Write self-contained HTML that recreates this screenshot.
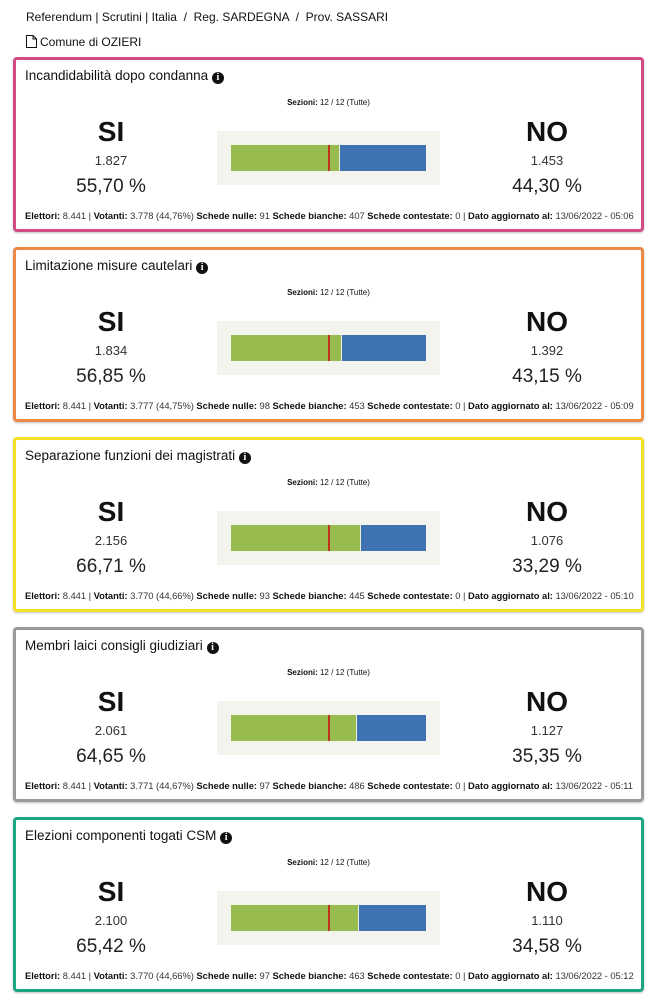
<!DOCTYPE html>
<html><head><meta charset="utf-8"><style>
*{margin:0;padding:0;box-sizing:border-box}
body{width:658px;height:1000px;background:#fff;font-family:"Liberation Sans",sans-serif;color:#111;position:relative;overflow:hidden}
.a{position:absolute;white-space:nowrap}
.box{position:absolute;left:13px;width:631px;height:175px;border:3px solid;border-radius:4px;box-shadow:0 1px 2px rgba(0,0,0,.25)}
.t{left:9px;top:8px;font-size:13.5px}
.i{display:inline-block;width:12px;height:12px;border-radius:50%;background:#111;color:#fff;font-size:10px;font-weight:bold;text-align:center;line-height:12px;font-family:"Liberation Serif",serif;vertical-align:0}
.sz{left:0;width:625px;text-align:center;top:38px;font-size:8px}
.c{width:120px;text-align:center}
.lbl{top:56px;font-size:28px;font-weight:bold}
.num{top:93px;font-size:13px;color:#333}
.pct{top:116px;font-size:19px;color:#222}
.chart{left:201px;top:71px;width:223px;height:54px;background:#f4f4ee}
.bar{position:absolute;left:14px;top:14px;width:195px;height:26px;background:#3f72b3}
.g{position:absolute;left:0;top:0;height:26px;background:#97bb4f;border-right:1px solid #e8f0e0}
.r{position:absolute;left:97px;top:0;width:2px;height:26px;background:#c0321a}
.f{left:9px;top:150px;font-size:9.4px;color:#333;letter-spacing:-0.03px}
.f b{color:#111}
</style></head><body>
<div class="a" style="left:26px;top:10px;font-size:12px">Referendum | Scrutini | Italia &nbsp;/&nbsp; Reg. SARDEGNA &nbsp;/&nbsp; Prov. SASSARI</div>
<div class="a" style="left:26px;top:35px;font-size:12px"><svg width="11" height="13" viewBox="0 0 11 13" style="vertical-align:-2px;margin-right:3px"><path d="M0.5 0.5h6.5l3.5 3.5v8.5h-10z M7 0.5v3.5h3.5" fill="none" stroke="#111"/></svg>Comune di OZIERI</div>

<div class="box" style="top:57px;border-color:#d24c82">
<div class="a t">Incandidabilità dopo condanna <span class="i">i</span></div>
<div class="a sz"><b>Sezioni:</b> 12 / 12 (Tutte)</div>
<div class="a c lbl" style="left:35px">SI</div><div class="a c num" style="left:35px">1.827</div><div class="a c pct" style="left:35px">55,70 %</div>
<div class="a chart"><div class="bar"><div class="g" style="width:109px"></div><div class="r"></div></div></div>
<div class="a c lbl" style="left:471px">NO</div><div class="a c num" style="left:471px">1.453</div><div class="a c pct" style="left:471px">44,30 %</div>
<div class="a f"><b>Elettori:</b> 8.441 | <b>Votanti:</b> 3.778 (44,76%) <b>Schede nulle:</b> 91 <b>Schede bianche:</b> 407 <b>Schede contestate:</b> 0 | <b>Dato aggiornato al:</b> 13/06/2022 - 05:06</div>
</div>

<div class="box" style="top:247px;border-color:#ee8846">
<div class="a t">Limitazione misure cautelari <span class="i">i</span></div>
<div class="a sz"><b>Sezioni:</b> 12 / 12 (Tutte)</div>
<div class="a c lbl" style="left:35px">SI</div><div class="a c num" style="left:35px">1.834</div><div class="a c pct" style="left:35px">56,85 %</div>
<div class="a chart"><div class="bar"><div class="g" style="width:111px"></div><div class="r"></div></div></div>
<div class="a c lbl" style="left:471px">NO</div><div class="a c num" style="left:471px">1.392</div><div class="a c pct" style="left:471px">43,15 %</div>
<div class="a f"><b>Elettori:</b> 8.441 | <b>Votanti:</b> 3.777 (44,75%) <b>Schede nulle:</b> 98 <b>Schede bianche:</b> 453 <b>Schede contestate:</b> 0 | <b>Dato aggiornato al:</b> 13/06/2022 - 05:09</div>
</div>

<div class="box" style="top:437px;border-color:#f4e121">
<div class="a t">Separazione funzioni dei magistrati <span class="i">i</span></div>
<div class="a sz"><b>Sezioni:</b> 12 / 12 (Tutte)</div>
<div class="a c lbl" style="left:35px">SI</div><div class="a c num" style="left:35px">2.156</div><div class="a c pct" style="left:35px">66,71 %</div>
<div class="a chart"><div class="bar"><div class="g" style="width:130px"></div><div class="r"></div></div></div>
<div class="a c lbl" style="left:471px">NO</div><div class="a c num" style="left:471px">1.076</div><div class="a c pct" style="left:471px">33,29 %</div>
<div class="a f"><b>Elettori:</b> 8.441 | <b>Votanti:</b> 3.770 (44,66%) <b>Schede nulle:</b> 93 <b>Schede bianche:</b> 445 <b>Schede contestate:</b> 0 | <b>Dato aggiornato al:</b> 13/06/2022 - 05:10</div>
</div>

<div class="box" style="top:627px;border-color:#9a9a9a">
<div class="a t">Membri laici consigli giudiziari <span class="i">i</span></div>
<div class="a sz"><b>Sezioni:</b> 12 / 12 (Tutte)</div>
<div class="a c lbl" style="left:35px">SI</div><div class="a c num" style="left:35px">2.061</div><div class="a c pct" style="left:35px">64,65 %</div>
<div class="a chart"><div class="bar"><div class="g" style="width:126px"></div><div class="r"></div></div></div>
<div class="a c lbl" style="left:471px">NO</div><div class="a c num" style="left:471px">1.127</div><div class="a c pct" style="left:471px">35,35 %</div>
<div class="a f"><b>Elettori:</b> 8.441 | <b>Votanti:</b> 3.771 (44,67%) <b>Schede nulle:</b> 97 <b>Schede bianche:</b> 486 <b>Schede contestate:</b> 0 | <b>Dato aggiornato al:</b> 13/06/2022 - 05:11</div>
</div>

<div class="box" style="top:817px;border-color:#1ba486">
<div class="a t">Elezioni componenti togati CSM <span class="i">i</span></div>
<div class="a sz"><b>Sezioni:</b> 12 / 12 (Tutte)</div>
<div class="a c lbl" style="left:35px">SI</div><div class="a c num" style="left:35px">2.100</div><div class="a c pct" style="left:35px">65,42 %</div>
<div class="a chart"><div class="bar"><div class="g" style="width:128px"></div><div class="r"></div></div></div>
<div class="a c lbl" style="left:471px">NO</div><div class="a c num" style="left:471px">1.110</div><div class="a c pct" style="left:471px">34,58 %</div>
<div class="a f"><b>Elettori:</b> 8.441 | <b>Votanti:</b> 3.770 (44,66%) <b>Schede nulle:</b> 97 <b>Schede bianche:</b> 463 <b>Schede contestate:</b> 0 | <b>Dato aggiornato al:</b> 13/06/2022 - 05:12</div>
</div>
</body></html>
